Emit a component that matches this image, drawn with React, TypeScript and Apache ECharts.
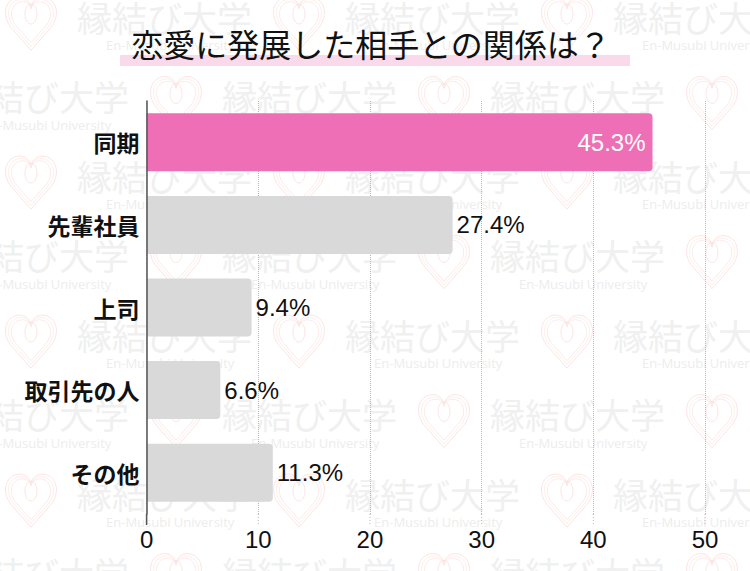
import React, { useEffect, useRef } from "react";
import * as echarts from "echarts";

const titleText = "恋愛に発展した相手との関係は？";
const categories = ["同期", "先輩社員", "上司", "取引先の人", "その他"];
const values = [45.3, 27.4, 9.4, 6.6, 11.3];
const highlighted = [true, false, false, false, false];
const xMin = 0;
const xMax = 50;
const xInterval = 10;
const xTicks = [0, 10, 20, 30, 40, 50];
const watermarkJa = "縁結び大学";
const watermarkEn = "En-Musubi University";

const PINK = "#EE6FB5";
const GRAY = "#D9D9D9";
const GRID_TOP = 101;
const GRID_HEIGHT = 413;
const EXT_BOTTOM = 525;

const heartD =
  "M50 108 L13 66 C-8 42 0 8 27 6 C39 5 47 13 50 24 C53 13 61 5 73 6 C100 8 108 42 87 66 Z";
echarts.graphic.registerShape("heart", (echarts.graphic as any).extendPath(heartD, {}));

function buildWatermark(): any[] {
  const els: any[] = [];
  for (let i = 0; i < 8; i++) {
    const yc = 16 + 79.5 * i;
    const base = i % 2 === 0 ? 5 : 150;
    for (let k = -1; k < 4; k++) {
      const hx = base + 268 * k;
      const hy = yc - 22;
      const scales = [0.52, 0.46, 0.4];
      const cols = ["#fbe1e3", "#fcece0", "#fbe1e3"];
      scales.forEach((s, j) => {
        const off = (0.52 - s) * 50;
        els.push({
          type: "heart",
          x: hx + off,
          y: hy + off * 0.9,
          scaleX: s,
          scaleY: s,
          silent: true,
          z: -10,
          style: { fill: "none", stroke: cols[j], lineWidth: 1.8 },
        });
      });
      els.push({
        type: "ellipse",
        silent: true,
        z: -10,
        shape: { cx: hx + 26, cy: hy + 20, rx: 6, ry: 10 },
        style: { fill: "none", stroke: "#fbe1e3", lineWidth: 0.9 },
      });
      els.push({
        type: "text",
        x: hx + 72,
        y: yc,
        silent: true,
        z: -10,
        style: {
          text: watermarkJa,
          fontSize: 35,
          fontFamily: "Noto Sans CJK JP",
          fill: "#f0f0f0",
          textVerticalAlign: "middle",
        },
      });
      els.push({
        type: "text",
        x: hx + 101,
        y: yc + 29,
        silent: true,
        z: -10,
        style: {
          text: watermarkEn,
          fontSize: 13,
          fontWeight: 500,
          fontFamily: "Open Sans",
          fill: "#ededed",
          textVerticalAlign: "middle",
        },
      });
    }
  }
  return els;
}

export default function App() {
  const ref = useRef<HTMLDivElement>(null);
  useEffect(() => {
    if (!ref.current) return;
    const chart = echarts.init(ref.current, undefined, { renderer: "svg" });
    const baseGraphic: any[] = [
      ...buildWatermark(),
      {
        type: "rect",
        z: 1,
        silent: true,
        shape: { x: 120, y: 55, width: 510, height: 11 },
        style: { fill: "#FAD9EA" },
      },
      {
        type: "text",
        z: 2,
        silent: true,
        x: 371,
        y: 43,
        style: {
          text: titleText,
          fontSize: 32,
          fontFamily: "Noto Sans CJK JP",
          fill: "#111",
          textAlign: "center",
          textVerticalAlign: "middle",
        },
      },
    ];
    chart.setOption({
      animation: false,
      backgroundColor: "#ffffff",
      grid: { left: 146.6, right: 45, top: GRID_TOP, height: GRID_HEIGHT, containLabel: false },
      xAxis: {
        type: "value",
        min: xMin,
        max: xMax,
        interval: xInterval,
        axisLine: { show: false },
        axisTick: { show: false },
        axisLabel: {
          margin: 13,
          fontSize: 24,
          color: "#111",
          fontFamily: "Liberation Sans",
        },
        splitLine: { show: true, lineStyle: { type: "dotted", color: "#b8b8b8", width: 1 } },
      },
      yAxis: {
        type: "category",
        data: categories,
        inverse: true,
        axisLine: { show: true, lineStyle: { color: "#555", width: 1.5 } },
        axisTick: { show: false },
        axisLabel: {
          margin: 7,
          fontSize: 23,
          fontWeight: "bold",
          color: "#111",
          fontFamily: "Noto Sans CJK JP",
        },
        z: 5,
      },
      series: [
        {
          type: "bar",
          barWidth: 58,
          data: values.map((v, i) => ({
            value: v,
            itemStyle: { color: highlighted[i] ? PINK : GRAY, borderRadius: [0, 4, 4, 0] },
            label: highlighted[i]
              ? { show: true, position: "insideRight", distance: 7, color: "#fff" }
              : { show: true, position: "right", distance: 4, color: "#111" },
          })),
          label: {
            show: true,
            fontSize: 24,
            fontFamily: "Liberation Sans",
            formatter: (p: any) => `${p.value}%`,
          },
        },
      ],
      graphic: baseGraphic,
    });
    const ext: any[] = xTicks.map((t) => {
      const px = chart.convertToPixel({ xAxisIndex: 0 }, t) as number;
      return {
        type: "line",
        silent: true,
        z: 3,
        shape: { x1: px, y1: GRID_TOP + GRID_HEIGHT, x2: px, y2: EXT_BOTTOM },
        style:
          t === xMin
            ? { stroke: "#555", lineWidth: 1.5 }
            : { stroke: "#b8b8b8", lineWidth: 1, lineDash: [1, 2] },
      };
    });
    chart.setOption({ graphic: [...baseGraphic, ...ext] });
    return () => chart.dispose();
  }, []);
  return (
    <div
      ref={ref}
      style={{ position: "fixed", left: 0, top: 0, width: 750, height: 571, background: "#fff" }}
    />
  );
}
